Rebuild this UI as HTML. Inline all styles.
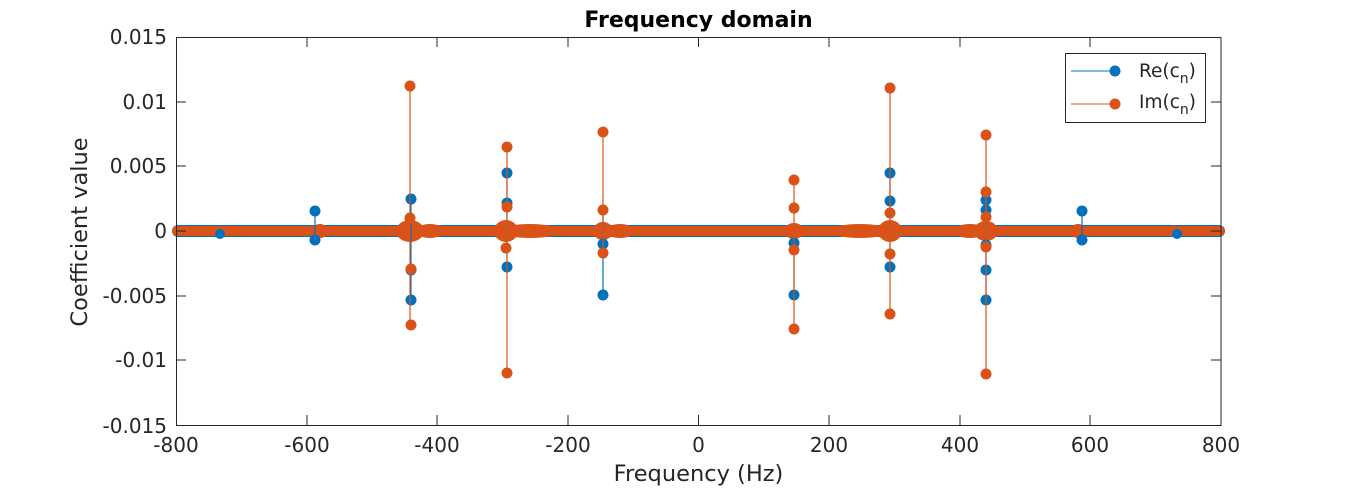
<!DOCTYPE html>
<html><head><style>
body{margin:0;background:#fff;}
svg text{font-family:"DejaVu Sans",sans-serif;fill:#262626;}
</style></head><body>
<svg width="1350" height="488" xmlns="http://www.w3.org/2000/svg">
<rect width="1350" height="488" fill="#fff"/>
<g id="data">
<rect x="172" y="225" width="1053" height="12" rx="6" fill="#0072bd"/>
<rect x="172" y="226" width="1053" height="10" rx="5" fill="#d95319"/>
<g fill="#d95319">
<ellipse cx="410" cy="231" rx="14" ry="11"/><ellipse cx="430" cy="231" rx="14" ry="7"/>
<ellipse cx="506" cy="231" rx="12" ry="11"/><ellipse cx="530" cy="231" rx="30" ry="7"/>
<ellipse cx="603" cy="231" rx="10" ry="9"/><ellipse cx="620" cy="231" rx="14" ry="7"/>
<ellipse cx="794" cy="231" rx="10" ry="8"/><ellipse cx="860" cy="231" rx="30" ry="7"/>
<ellipse cx="890" cy="231" rx="12" ry="11"/><ellipse cx="970" cy="231" rx="16" ry="7"/>
<ellipse cx="986" cy="231" rx="12" ry="10"/><ellipse cx="320" cy="231" rx="8" ry="7"/><ellipse cx="1078" cy="231" rx="8" ry="7"/>
</g>
<g stroke="#0072bd" stroke-width="1.2">
<line x1="411" y1="199" x2="411" y2="300"/><line x1="507" y1="173" x2="507" y2="267"/>
<line x1="603" y1="213" x2="603" y2="295"/><line x1="794" y1="243" x2="794" y2="295"/>
<line x1="890" y1="173" x2="890" y2="267"/><line x1="986" y1="200" x2="986" y2="300"/>
<line x1="315" y1="211" x2="315" y2="240"/><line x1="1082" y1="211" x2="1082" y2="240"/>
</g>
<g fill="#0072bd">
<circle cx="411" cy="199" r="5.5"/><circle cx="411" cy="270" r="5.5"/><circle cx="411" cy="300" r="5.5"/>
<circle cx="507" cy="173" r="5.5"/><circle cx="507" cy="203" r="5.5"/><circle cx="507" cy="267" r="5.5"/>
<circle cx="603" cy="244" r="5.5"/><circle cx="603" cy="295" r="5.5"/>
<circle cx="794" cy="243" r="5.5"/><circle cx="794" cy="295" r="5.5"/>
<circle cx="890" cy="173" r="5.5"/><circle cx="890" cy="201" r="5.5"/><circle cx="890" cy="267" r="5.5"/>
<circle cx="986" cy="200" r="5.5"/><circle cx="986" cy="210" r="5.5"/><circle cx="986" cy="245" r="5.5"/><circle cx="986" cy="270" r="5.5"/><circle cx="986" cy="300" r="5.5"/>
<circle cx="315" cy="211" r="5.5"/><circle cx="315" cy="240" r="5.5"/>
<circle cx="1082" cy="211" r="5.5"/><circle cx="1082" cy="240" r="5.5"/>
<circle cx="220" cy="234" r="5"/><circle cx="1177" cy="234" r="5"/>
</g>
<g stroke="#d95319" stroke-width="1.2">
<line x1="410" y1="86" x2="410" y2="325"/><line x1="507" y1="147" x2="507" y2="373"/>
<line x1="603" y1="132" x2="603" y2="253"/><line x1="794" y1="180" x2="794" y2="329"/>
<line x1="890" y1="88" x2="890" y2="314"/><line x1="986" y1="135" x2="986" y2="374"/>
</g>
<g fill="#d95319">
<circle cx="410" cy="86" r="5.5"/><circle cx="410" cy="218" r="5.5"/><circle cx="411" cy="269" r="5.5"/><circle cx="411" cy="325" r="5.5"/>
<circle cx="507" cy="147" r="5.5"/><circle cx="507" cy="207" r="5.5"/><circle cx="506" cy="248" r="5.5"/><circle cx="507" cy="373" r="5.5"/>
<circle cx="603" cy="132" r="5.5"/><circle cx="603" cy="210" r="5.5"/><circle cx="603" cy="253" r="5.5"/>
<circle cx="794" cy="180" r="5.5"/><circle cx="794" cy="208" r="5.5"/><circle cx="794" cy="250" r="5.5"/><circle cx="794" cy="329" r="5.5"/>
<circle cx="890" cy="88" r="5.5"/><circle cx="890" cy="213" r="5.5"/><circle cx="890" cy="254" r="5.5"/><circle cx="890" cy="314" r="5.5"/>
<circle cx="986" cy="135" r="5.5"/><circle cx="986" cy="192" r="5.5"/><circle cx="986" cy="217" r="5.5"/><circle cx="986" cy="247" r="5.5"/><circle cx="986" cy="374" r="5.5"/>
</g>
</g>
<rect x="176.5" y="37.5" width="1044.5" height="388" fill="none" stroke="#262626" stroke-width="1"/>
<g stroke="#262626" stroke-width="1">
<line x1="176" y1="102" x2="186" y2="102"/><line x1="176" y1="166" x2="186" y2="166"/><line x1="176" y1="231" x2="186" y2="231"/><line x1="176" y1="296" x2="186" y2="296"/><line x1="176" y1="360" x2="186" y2="360"/>
<line x1="1221" y1="102" x2="1211" y2="102"/><line x1="1221" y1="166" x2="1211" y2="166"/><line x1="1221" y1="231" x2="1211" y2="231"/><line x1="1221" y1="296" x2="1211" y2="296"/><line x1="1221" y1="360" x2="1211" y2="360"/>
<line x1="307" y1="425" x2="307" y2="415"/><line x1="437" y1="425" x2="437" y2="415"/><line x1="568" y1="425" x2="568" y2="415"/><line x1="698.5" y1="425" x2="698.5" y2="415"/><line x1="829" y1="425" x2="829" y2="415"/><line x1="960" y1="425" x2="960" y2="415"/><line x1="1090" y1="425" x2="1090" y2="415"/>
<line x1="307" y1="37" x2="307" y2="47"/><line x1="437" y1="37" x2="437" y2="47"/><line x1="568" y1="37" x2="568" y2="47"/><line x1="698.5" y1="37" x2="698.5" y2="47"/><line x1="829" y1="37" x2="829" y2="47"/><line x1="960" y1="37" x2="960" y2="47"/><line x1="1090" y1="37" x2="1090" y2="47"/>
</g>
<g font-size="20" text-anchor="end">
<text x="167" y="44">0.015</text><text x="167" y="109">0.01</text><text x="167" y="173">0.005</text><text x="167" y="238">0</text><text x="167" y="303">-0.005</text><text x="167" y="367">-0.01</text><text x="167" y="433">-0.015</text>
</g>
<g font-size="20" text-anchor="middle">
<text x="176" y="452">-800</text><text x="307" y="452">-600</text><text x="437" y="452">-400</text><text x="568" y="452">-200</text><text x="698.5" y="452">0</text><text x="829" y="452">200</text><text x="960" y="452">400</text><text x="1090" y="452">600</text><text x="1221" y="452">800</text>
</g>
<text x="698.5" y="481" font-size="22.5" text-anchor="middle">Frequency (Hz)</text>
<text transform="translate(87,232) rotate(-90)" font-size="22.5" text-anchor="middle">Coefficient value</text>
<text x="698.5" y="27" font-size="22" font-weight="bold" text-anchor="middle" style="fill:#000">Frequency domain</text>
<rect x="1065.5" y="53.5" width="140" height="69" fill="#fff" stroke="#262626"/>
<line x1="1071" y1="71" x2="1115" y2="71" stroke="#0072bd"/><circle cx="1115" cy="71" r="5.5" fill="#0072bd"/>
<line x1="1071" y1="104" x2="1115" y2="104" stroke="#d95319"/><circle cx="1115" cy="104" r="5.5" fill="#d95319"/>
<text x="1139" y="77" font-size="18.5">Re(c<tspan font-size="14" dy="6">n</tspan><tspan dy="-6">)</tspan></text>
<text x="1139" y="108" font-size="18.5">Im(c<tspan font-size="14" dy="6">n</tspan><tspan dy="-6">)</tspan></text>
</svg>
</body></html>
